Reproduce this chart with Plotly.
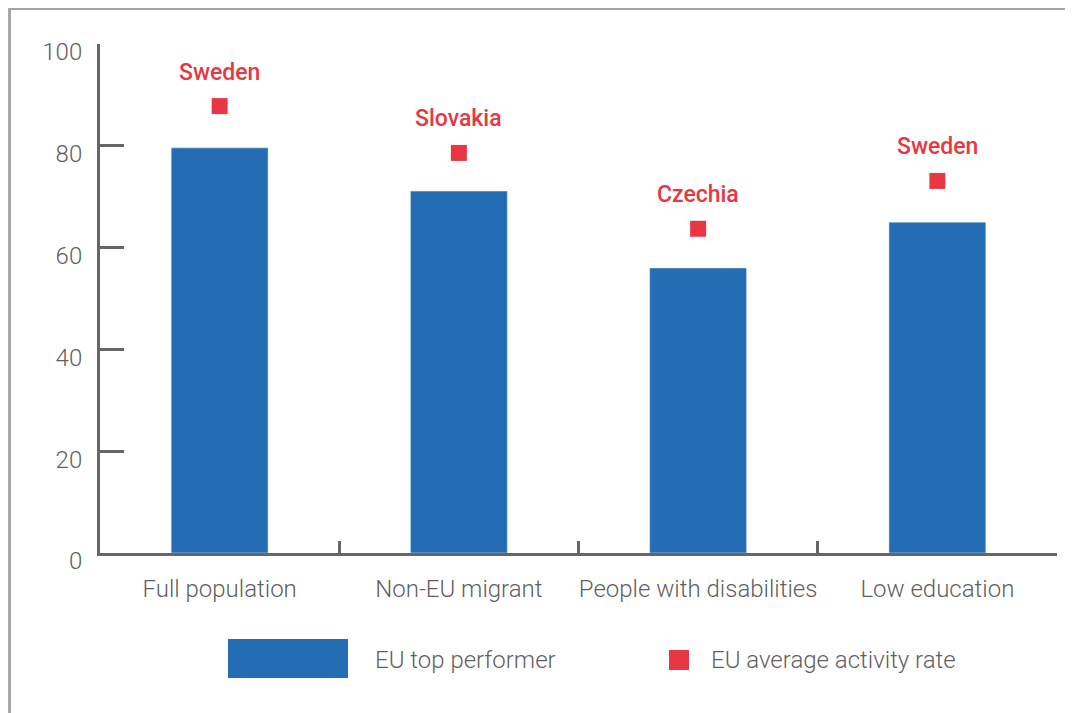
import plotly.graph_objects as go

categories = ["Full population", "Non-EU migrant", "People with disabilities", "Low education"]
top_performer = [79.6, 71.1, 56.0, 65.0]
eu_average = [87.8, 78.6, 63.7, 73.1]
country_labels = ["Sweden", "Slovakia", "Czechia", "Sweden"]
y_ticks = [0, 20, 40, 60, 80, 100]

BLUE = "#246DB4"
RED = "#E83743"
GREY = "#5f5f5f"
AXIS = "#666666"
FONT = "Roboto"

fig = go.Figure()
fig.add_trace(go.Bar(x=categories, y=top_performer, marker_color=BLUE, width=0.405,
                     name="EU top performer", showlegend=False))
fig.add_trace(go.Scatter(x=categories, y=eu_average, mode="markers",
                         marker=dict(symbol="square", size=16, color=RED),
                         name="EU average activity rate", showlegend=False))

for c, v, t in zip(categories, eu_average, country_labels):
    fig.add_annotation(x=c, y=v, text=t, showarrow=False, yshift=34,
                       font=dict(family=FONT, size=23, color=RED, weight=500))

# frame
fig.add_shape(type="rect", xref="paper", yref="paper", x0=-0.0945, x1=1.2, y0=-0.5, y1=1.0695,
              line=dict(color="#a6a6a6", width=3), layer="below")

# legend (manual), pixel positions measured on the page
def px_x(p):
    return (p - 100) / 957
def px_y(p):
    return (553 - p) / 509

fig.add_shape(type="rect", xref="paper", yref="paper", x0=px_x(228), x1=px_x(348),
              y0=px_y(678), y1=px_y(639), fillcolor=BLUE, line=dict(width=0))
fig.add_annotation(xref="paper", yref="paper", x=px_x(373), y=px_y(660), xanchor="left",
                   yanchor="middle", text="EU top performer", showarrow=False,
                   font=dict(family=FONT, size=24, color=GREY, weight=300))
fig.add_shape(type="rect", xref="paper", yref="paper", x0=px_x(669), x1=px_x(689),
              y0=px_y(670), y1=px_y(650), fillcolor=RED, line=dict(width=0))
fig.add_annotation(xref="paper", yref="paper", x=px_x(709), y=px_y(660), xanchor="left",
                   yanchor="middle", text="EU average activity rate", showarrow=False,
                   font=dict(family=FONT, size=24, color=GREY, weight=300))

# page has an 8px body margin: compensate in the figure margins
fig.update_layout(
    width=1073, height=713,
    margin=dict(l=92, r=24, t=36, b=168),
    plot_bgcolor="white", paper_bgcolor="white",
    showlegend=False,
    font=dict(family=FONT, color=GREY, size=24, weight=300),
)
fig.update_yaxes(range=[0, 100], tickvals=y_ticks, showgrid=False, zeroline=False,
                 showline=True, linecolor=AXIS, linewidth=3, automargin=False,
                 ticks="inside", ticklen=24, tickwidth=3, tickcolor=AXIS,
                 ticklabelstandoff=10, ticklabelshift=8,
                 tickfont=dict(family=FONT, size=24, color=GREY, weight=300))
fig.update_xaxes(showgrid=False, zeroline=False, showline=True, linecolor=AXIS, linewidth=3,
                 automargin=False, tickangle=0,
                 ticks="inside", tickson="boundaries", ticklen=12, tickwidth=3, tickcolor=AXIS,
                 ticklabelstandoff=12,
                 tickfont=dict(family=FONT, size=24, color=GREY, weight=300))

fig.write_html("out.html")
